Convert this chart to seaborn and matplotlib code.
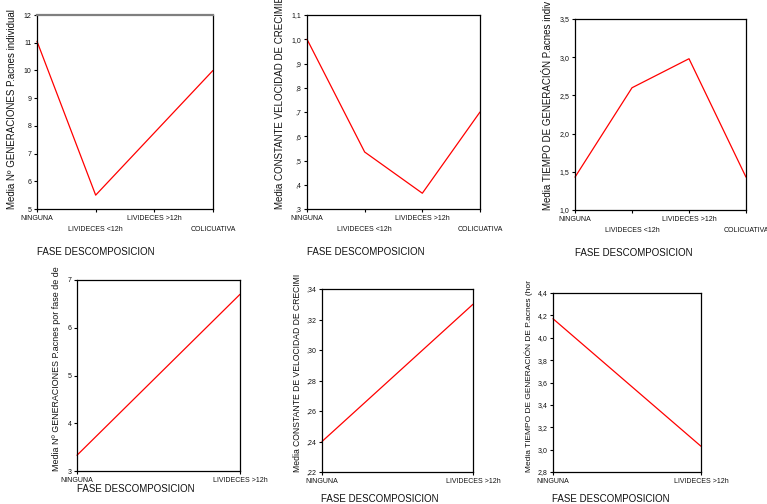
import matplotlib
matplotlib.use("Agg")
import matplotlib.pyplot as plt
import seaborn as sns
import pandas as pd
from matplotlib.ticker import FixedLocator, FuncFormatter

# data
fases4 = ["NINGUNA", "LIVIDECES <12h", "LIVIDECES >12h", "COLICUATIVA"]
fases2 = ["NINGUNA", "LIVIDECES >12h"]

generaciones_ind = [11.05, 5.5, 7.75, 10.0]
constante_ind = [1.0, 0.535, 0.365, 0.70]
tiempo_ind = [1.43, 2.6, 2.98, 1.43]

generaciones_fase = [3.33, 6.7]
constante_fase = [0.24, 0.33]
tiempo_fase = [4.17, 3.03]

yticks1 = [5, 6, 7, 8, 9, 10, 11, 12]
yticks2 = [0.3, 0.4, 0.5, 0.6, 0.7, 0.8, 0.9, 1.0, 1.1]
yticks3 = [1.0, 1.5, 2.0, 2.5, 3.0, 3.5]
yticks4 = [3, 4, 5, 6, 7]
yticks5 = [0.22, 0.24, 0.26, 0.28, 0.30, 0.32, 0.34]
yticks6 = [2.8, 3.0, 3.2, 3.4, 3.6, 3.8, 4.0, 4.2, 4.4]

ylabels = [
    "Media Nº GENERACIONES P.acnes individual",
    "Media CONSTANTE VELOCIDAD DE CRECIMIE",
    "Media TIEMPO DE GENERACIÓN P.acnes indiv",
    "Media Nº GENERACIONES P.acnes por fase de de",
    "Media CONSTANTE DE VELOCIDAD DE CRECIMI",
    "Media TIEMPO DE GENERACIÓN DE P.acnes (hor",
]
xlabel = "FASE DESCOMPOSICION"

sns.set_style("white")
plt.rcParams["font.family"] = ["Liberation Sans", "DejaVu Sans"]

W, H = 767, 504
fig = plt.figure(figsize=(W / 100, H / 100), dpi=100)


def px_axes(left, top, right, bottom):
    return fig.add_axes([left / W, 1 - bottom / H, (right - left) / W, (bottom - top) / H])


def spss_fmt(decimals):
    def f(v, pos):
        s = f"{v:.{decimals}f}".replace(".", ",")
        if s.startswith("0,"):
            s = s[1:]
        return s
    return FuncFormatter(f)


panels = [
    # box in pixels, categories, values, yticks, decimals, ylabel x, ylabel size, xlabel pos
    ((37, 15, 213, 209), fases4, generaciones_ind, yticks1, 0, 12, 7, (37, 252)),
    ((307, 15, 480, 209), fases4, constante_ind, yticks2, 1, 280, 7, (307, 252)),
    ((575, 19, 746, 210), fases4, tiempo_ind, yticks3, 1, 548, 7, (575, 253)),
    ((77, 280, 240, 471), fases2, generaciones_fase, yticks4, 0, 57, 6.4, (77, 489)),
    ((322, 289, 473, 472), fases2, constante_fase, yticks5, 2, 298, 6.2, (321, 499)),
    ((553, 293, 701, 472), fases2, tiempo_fase, yticks6, 1, 529, 6.0, (552, 499)),
]

for i, (box, cats, vals, yt, dec, ylx, yls, xlp) in enumerate(panels):
    ax = px_axes(*box)
    df = pd.DataFrame({"fase": range(len(cats)), "media": vals})
    sns.lineplot(data=df, x="fase", y="media", color="red", linewidth=0.9, ax=ax,
                 sort=False, clip_on=False)
    ax.set_xlim(0, len(cats) - 1)
    ax.set_ylim(yt[0], yt[-1])
    ax.yaxis.set_major_locator(FixedLocator(yt))
    ax.yaxis.set_major_formatter(spss_fmt(dec))
    ax.set_xticks(range(len(cats)))
    if len(cats) == 4:
        ax.set_xticklabels([c if j % 2 == 0 else "\n" + c for j, c in enumerate(cats)])
    else:
        ax.set_xticklabels(cats)
    ax.tick_params(axis="both", which="major", direction="out", length=2.5, width=0.8,
                   labelsize=5, pad=1.5, color="black", labelcolor="#111111",
                   left=True, bottom=True)
    for lbl in ax.get_xticklabels():
        lbl.set_linespacing(1.9)
    for sp in ax.spines.values():
        sp.set_color("black")
        sp.set_linewidth(0.9)
    if i == 0:
        ax.spines["top"].set_color("#7f7f7f")
        ax.spines["top"].set_linewidth(1.6)
    ax.set_xlabel("")
    ax.set_ylabel("")
    fig.text(ylx / W, 1 - box[3] / H, ylabels[i], rotation=90, ha="center", va="bottom",
             fontsize=yls, color="#111111")
    fig.text(xlp[0] / W, 1 - xlp[1] / H, xlabel, ha="left", va="center", fontsize=7,
             color="#111111")

fig.savefig("out.png", dpi=100)
